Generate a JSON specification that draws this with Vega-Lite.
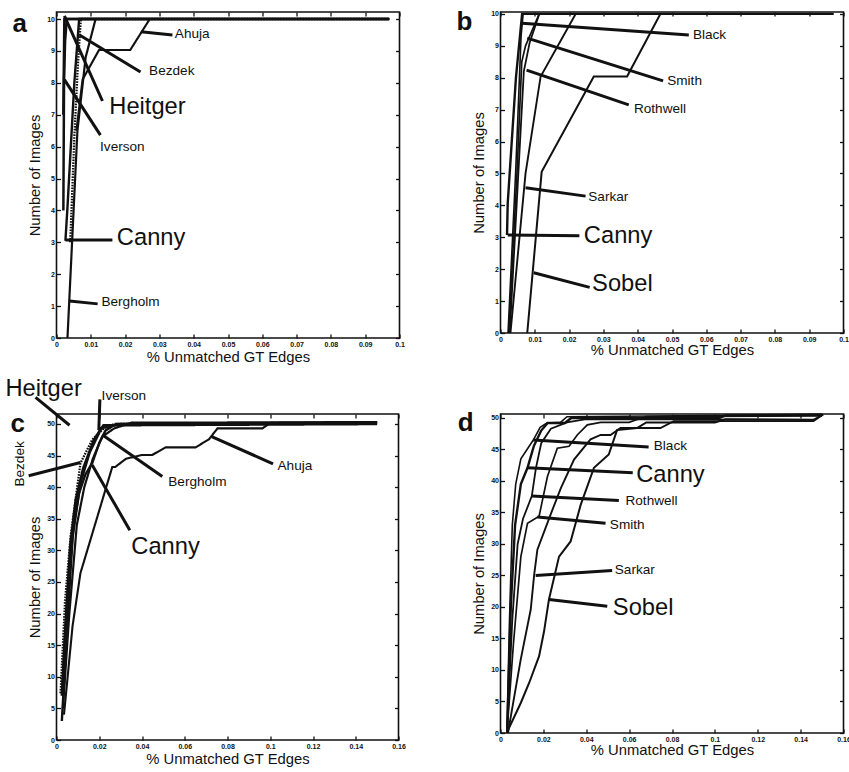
{
  "$schema": "https://vega.github.io/schema/vega-lite/v6.json",
  "background": "white",
  "padding": {"left": 4.5, "top": 8, "right": 0, "bottom": 0},
  "datasets": {
    "a_curves": [
      {"method": "Heitger", "i": 0, "x": 0.0020, "y": 7.0},
      {"method": "Heitger", "i": 1, "x": 0.0023, "y": 10},
      {"method": "Heitger", "i": 2, "x": 0.097, "y": 10},
      {"method": "Iverson", "i": 0, "x": 0.0020, "y": 4.0},
      {"method": "Iverson", "i": 1, "x": 0.0022, "y": 8.1},
      {"method": "Iverson", "i": 2, "x": 0.0025, "y": 9.3},
      {"method": "Iverson", "i": 3, "x": 0.0030, "y": 10},
      {"method": "Iverson", "i": 4, "x": 0.097, "y": 10},
      {"method": "Canny", "i": 0, "x": 0.0026, "y": 3.05},
      {"method": "Canny", "i": 1, "x": 0.0032, "y": 4.1},
      {"method": "Canny", "i": 2, "x": 0.0052, "y": 8.0},
      {"method": "Canny", "i": 3, "x": 0.0066, "y": 10},
      {"method": "Canny", "i": 4, "x": 0.097, "y": 10},
      {"method": "Bezdek", "i": 0, "x": 0.0040, "y": 3.0},
      {"method": "Bezdek", "i": 1, "x": 0.0047, "y": 4.9},
      {"method": "Bezdek", "i": 2, "x": 0.0052, "y": 6.3},
      {"method": "Bezdek", "i": 3, "x": 0.0062, "y": 8.5},
      {"method": "Bezdek", "i": 4, "x": 0.0071, "y": 10},
      {"method": "Bezdek", "i": 5, "x": 0.097, "y": 10},
      {"method": "Bergholm", "i": 0, "x": 0.0032, "y": 0},
      {"method": "Bergholm", "i": 1, "x": 0.0061, "y": 6.5},
      {"method": "Bergholm", "i": 2, "x": 0.0085, "y": 8.8},
      {"method": "Bergholm", "i": 3, "x": 0.0114, "y": 10},
      {"method": "Bergholm", "i": 4, "x": 0.097, "y": 10},
      {"method": "Ahuja", "i": 0, "x": 0.0058, "y": 6.5},
      {"method": "Ahuja", "i": 1, "x": 0.0076, "y": 8.1},
      {"method": "Ahuja", "i": 2, "x": 0.0124, "y": 9.03},
      {"method": "Ahuja", "i": 3, "x": 0.0215, "y": 9.03},
      {"method": "Ahuja", "i": 4, "x": 0.0272, "y": 10},
      {"method": "Ahuja", "i": 5, "x": 0.097, "y": 10}
    ],
    "a_leaders": [
      {"method": "Ahuja", "x": 0.0246, "y": 9.6, "x2": 0.0338, "y2": 9.5},
      {"method": "Bezdek", "x": 0.0067, "y": 9.5, "x2": 0.0245, "y2": 8.34},
      {"method": "Heitger", "x": 0.0023, "y": 10.1, "x2": 0.0134, "y2": 7.43},
      {"method": "Iverson", "x": 0.0023, "y": 8.1, "x2": 0.0128, "y2": 6.36},
      {"method": "Canny", "x": 0.0026, "y": 3.07, "x2": 0.0163, "y2": 3.07},
      {"method": "Bergholm", "x": 0.0038, "y": 1.16, "x2": 0.0120, "y2": 1.07}
    ],
    "a_labels": [
      {"label": "Ahuja", "group": "minor", "x": 0.0345, "y": 9.52},
      {"label": "Bezdek", "group": "minor", "x": 0.0270, "y": 8.37},
      {"label": "Heitger", "group": "major", "x": 0.0154, "y": 7.23},
      {"label": "Iverson", "group": "minor", "x": 0.0127, "y": 5.99},
      {"label": "Canny", "group": "major", "x": 0.0176, "y": 3.14},
      {"label": "Bergholm", "group": "minor", "x": 0.0131, "y": 1.12},
      {"label": "a", "group": "panel", "x": -0.0128, "y": 9.6}
    ],
    "b_curves": [
      {"method": "Sobel", "i": 0, "x": 0.0078, "y": 0},
      {"method": "Sobel", "i": 1, "x": 0.0120, "y": 5.05},
      {"method": "Sobel", "i": 2, "x": 0.0272, "y": 8.04},
      {"method": "Sobel", "i": 3, "x": 0.0369, "y": 8.04},
      {"method": "Sobel", "i": 4, "x": 0.0466, "y": 10},
      {"method": "Sobel", "i": 5, "x": 0.097, "y": 10},
      {"method": "Sarkar", "i": 0, "x": 0.0029, "y": 0},
      {"method": "Sarkar", "i": 1, "x": 0.0073, "y": 5.0},
      {"method": "Sarkar", "i": 2, "x": 0.0117, "y": 8.04},
      {"method": "Sarkar", "i": 3, "x": 0.0219, "y": 10},
      {"method": "Sarkar", "i": 4, "x": 0.097, "y": 10},
      {"method": "Rothwell", "i": 0, "x": 0.0027, "y": 0},
      {"method": "Rothwell", "i": 1, "x": 0.0052, "y": 5},
      {"method": "Rothwell", "i": 2, "x": 0.0068, "y": 8.2},
      {"method": "Rothwell", "i": 3, "x": 0.0085, "y": 9.1},
      {"method": "Rothwell", "i": 4, "x": 0.0113, "y": 10},
      {"method": "Rothwell", "i": 5, "x": 0.097, "y": 10},
      {"method": "Smith", "i": 0, "x": 0.0024, "y": 0},
      {"method": "Smith", "i": 1, "x": 0.0048, "y": 5},
      {"method": "Smith", "i": 2, "x": 0.0062, "y": 8.5},
      {"method": "Smith", "i": 3, "x": 0.0073, "y": 9.0},
      {"method": "Smith", "i": 4, "x": 0.0113, "y": 10},
      {"method": "Smith", "i": 5, "x": 0.097, "y": 10},
      {"method": "Black", "i": 0, "x": 0.0022, "y": 0},
      {"method": "Black", "i": 1, "x": 0.0044, "y": 5},
      {"method": "Black", "i": 2, "x": 0.0060, "y": 9.3},
      {"method": "Black", "i": 3, "x": 0.0066, "y": 10},
      {"method": "Black", "i": 4, "x": 0.097, "y": 10},
      {"method": "Canny", "i": 0, "x": 0.0019, "y": 3.07},
      {"method": "Canny", "i": 1, "x": 0.0021, "y": 4.06},
      {"method": "Canny", "i": 2, "x": 0.0045, "y": 8},
      {"method": "Canny", "i": 3, "x": 0.0063, "y": 10},
      {"method": "Canny", "i": 4, "x": 0.097, "y": 10}
    ],
    "b_leaders": [
      {"method": "Black", "x": 0.0063, "y": 9.71, "x2": 0.0549, "y2": 9.34},
      {"method": "Smith", "x": 0.0078, "y": 9.24, "x2": 0.0474, "y2": 7.90},
      {"method": "Rothwell", "x": 0.0076, "y": 8.24, "x2": 0.0374, "y2": 7.15},
      {"method": "Sarkar", "x": 0.0073, "y": 4.55, "x2": 0.0248, "y2": 4.29},
      {"method": "Canny", "x": 0.0021, "y": 3.07, "x2": 0.0230, "y2": 3.05},
      {"method": "Sobel", "x": 0.0097, "y": 1.89, "x2": 0.0260, "y2": 1.43}
    ],
    "b_labels": [
      {"label": "Black", "group": "minor", "x": 0.0561, "y": 9.35},
      {"label": "Smith", "group": "minor", "x": 0.0486, "y": 7.89},
      {"label": "Rothwell", "group": "minor", "x": 0.0389, "y": 7.03},
      {"label": "Sarkar", "group": "minor", "x": 0.0256, "y": 4.27},
      {"label": "Canny", "group": "major", "x": 0.0243, "y": 3.05},
      {"label": "Sobel", "group": "major", "x": 0.0267, "y": 1.53},
      {"label": "b", "group": "panel", "x": -0.0128, "y": 9.5}
    ],
    "c_curves": [
      {"method": "Ahuja", "i": 0, "x": 0.0035, "y": 4},
      {"method": "Ahuja", "i": 1, "x": 0.0075, "y": 18},
      {"method": "Ahuja", "i": 2, "x": 0.0112, "y": 26.4},
      {"method": "Ahuja", "i": 3, "x": 0.0261, "y": 43.2},
      {"method": "Ahuja", "i": 4, "x": 0.0275, "y": 43.2},
      {"method": "Ahuja", "i": 5, "x": 0.0325, "y": 44.5},
      {"method": "Ahuja", "i": 6, "x": 0.0401, "y": 45.1},
      {"method": "Ahuja", "i": 7, "x": 0.0448, "y": 45.1},
      {"method": "Ahuja", "i": 8, "x": 0.0510, "y": 46.3},
      {"method": "Ahuja", "i": 9, "x": 0.0651, "y": 46.3},
      {"method": "Ahuja", "i": 10, "x": 0.0714, "y": 47.6},
      {"method": "Ahuja", "i": 11, "x": 0.0753, "y": 49.3},
      {"method": "Ahuja", "i": 12, "x": 0.0963, "y": 49.3},
      {"method": "Ahuja", "i": 13, "x": 0.1002, "y": 50.2},
      {"method": "Ahuja", "i": 14, "x": 0.150, "y": 50.3},
      {"method": "Bergholm", "i": 0, "x": 0.0030, "y": 5},
      {"method": "Bergholm", "i": 1, "x": 0.0060, "y": 20},
      {"method": "Bergholm", "i": 2, "x": 0.0095, "y": 34},
      {"method": "Bergholm", "i": 3, "x": 0.0130, "y": 40},
      {"method": "Bergholm", "i": 4, "x": 0.0170, "y": 44.5},
      {"method": "Bergholm", "i": 5, "x": 0.0214, "y": 48.0},
      {"method": "Bergholm", "i": 6, "x": 0.0270, "y": 49.3},
      {"method": "Bergholm", "i": 7, "x": 0.0350, "y": 50.2},
      {"method": "Bergholm", "i": 8, "x": 0.150, "y": 50.3},
      {"method": "Canny", "i": 0, "x": 0.0025, "y": 3},
      {"method": "Canny", "i": 1, "x": 0.0045, "y": 15},
      {"method": "Canny", "i": 2, "x": 0.0075, "y": 32},
      {"method": "Canny", "i": 3, "x": 0.0105, "y": 39},
      {"method": "Canny", "i": 4, "x": 0.0135, "y": 42.0},
      {"method": "Canny", "i": 5, "x": 0.0167, "y": 43.8},
      {"method": "Canny", "i": 6, "x": 0.0200, "y": 47},
      {"method": "Canny", "i": 7, "x": 0.0230, "y": 49},
      {"method": "Canny", "i": 8, "x": 0.0280, "y": 50},
      {"method": "Canny", "i": 9, "x": 0.150, "y": 50.2},
      {"method": "Heitger", "i": 0, "x": 0.0025, "y": 7},
      {"method": "Heitger", "i": 1, "x": 0.0040, "y": 17},
      {"method": "Heitger", "i": 2, "x": 0.0065, "y": 31},
      {"method": "Heitger", "i": 3, "x": 0.0090, "y": 38},
      {"method": "Heitger", "i": 4, "x": 0.0125, "y": 43},
      {"method": "Heitger", "i": 5, "x": 0.0175, "y": 47.5},
      {"method": "Heitger", "i": 6, "x": 0.0220, "y": 49.8},
      {"method": "Heitger", "i": 7, "x": 0.150, "y": 50},
      {"method": "Iverson", "i": 0, "x": 0.0030, "y": 9},
      {"method": "Iverson", "i": 1, "x": 0.0050, "y": 22},
      {"method": "Iverson", "i": 2, "x": 0.0080, "y": 34},
      {"method": "Iverson", "i": 3, "x": 0.0115, "y": 41},
      {"method": "Iverson", "i": 4, "x": 0.0155, "y": 45.5},
      {"method": "Iverson", "i": 5, "x": 0.0198, "y": 48.5},
      {"method": "Iverson", "i": 6, "x": 0.0205, "y": 49.3},
      {"method": "Iverson", "i": 7, "x": 0.0300, "y": 50},
      {"method": "Iverson", "i": 8, "x": 0.150, "y": 50.1},
      {"method": "Bezdek", "i": 0, "x": 0.0019, "y": 7.4},
      {"method": "Bezdek", "i": 1, "x": 0.0040, "y": 22},
      {"method": "Bezdek", "i": 2, "x": 0.0066, "y": 32.2},
      {"method": "Bezdek", "i": 3, "x": 0.0112, "y": 43.8},
      {"method": "Bezdek", "i": 4, "x": 0.0167, "y": 47.5},
      {"method": "Bezdek", "i": 5, "x": 0.0230, "y": 49.6},
      {"method": "Bezdek", "i": 6, "x": 0.0276, "y": 50},
      {"method": "Bezdek", "i": 7, "x": 0.150, "y": 50.1}
    ],
    "c_leaders": [
      {"method": "Heitger", "x": -0.0098, "y": 54.2, "x2": 0.0061, "y2": 49.8},
      {"method": "Iverson", "x": 0.0203, "y": 53.9, "x2": 0.0198, "y2": 49.05},
      {"method": "Bezdek", "x": -0.0130, "y": 41.8, "x2": 0.0112, "y2": 43.9},
      {"method": "Bergholm", "x": 0.0214, "y": 48.3, "x2": 0.0495, "y2": 41.7},
      {"method": "Canny", "x": 0.0167, "y": 43.5, "x2": 0.0343, "y2": 33.2},
      {"method": "Ahuja", "x": 0.0726, "y": 48.0, "x2": 0.1013, "y2": 43.7}
    ],
    "c_labels": [
      {"label": "Heitger", "group": "major", "x": -0.0239, "y": 55.6},
      {"label": "Iverson", "group": "minor", "x": 0.0211, "y": 54.4},
      {"label": "Bezdek", "group": "vertical", "x": -0.0169, "y": 40.1},
      {"label": "Bergholm", "group": "minor", "x": 0.0523, "y": 40.8},
      {"label": "Ahuja", "group": "minor", "x": 0.1034, "y": 43.35},
      {"label": "Canny", "group": "major", "x": 0.0350, "y": 30.6},
      {"label": "c", "group": "panel", "x": -0.0215, "y": 48.8}
    ],
    "d_curves": [
      {"method": "Black", "i": 0, "x": 0.0030, "y": 0.5},
      {"method": "Black", "i": 1, "x": 0.0042, "y": 18},
      {"method": "Black", "i": 2, "x": 0.0055, "y": 33},
      {"method": "Black", "i": 3, "x": 0.0071, "y": 39.5},
      {"method": "Black", "i": 4, "x": 0.0095, "y": 43.5},
      {"method": "Black", "i": 5, "x": 0.0153, "y": 46.5},
      {"method": "Black", "i": 6, "x": 0.0185, "y": 48.5},
      {"method": "Black", "i": 7, "x": 0.0216, "y": 49.2},
      {"method": "Black", "i": 8, "x": 0.0280, "y": 49.3},
      {"method": "Black", "i": 9, "x": 0.0310, "y": 50.2},
      {"method": "Black", "i": 10, "x": 0.150, "y": 50.55},
      {"method": "Canny", "i": 0, "x": 0.0032, "y": 1},
      {"method": "Canny", "i": 1, "x": 0.0048, "y": 20},
      {"method": "Canny", "i": 2, "x": 0.0068, "y": 33},
      {"method": "Canny", "i": 3, "x": 0.0095, "y": 39.5},
      {"method": "Canny", "i": 4, "x": 0.0126, "y": 42.1},
      {"method": "Canny", "i": 5, "x": 0.0155, "y": 45.5},
      {"method": "Canny", "i": 6, "x": 0.0190, "y": 48},
      {"method": "Canny", "i": 7, "x": 0.0220, "y": 49.2},
      {"method": "Canny", "i": 8, "x": 0.0300, "y": 49.2},
      {"method": "Canny", "i": 9, "x": 0.0330, "y": 50},
      {"method": "Canny", "i": 10, "x": 0.1020, "y": 50},
      {"method": "Canny", "i": 11, "x": 0.1050, "y": 50.4},
      {"method": "Canny", "i": 12, "x": 0.150, "y": 50.5},
      {"method": "Rothwell", "i": 0, "x": 0.0030, "y": 0},
      {"method": "Rothwell", "i": 1, "x": 0.0055, "y": 18},
      {"method": "Rothwell", "i": 2, "x": 0.0080, "y": 30},
      {"method": "Rothwell", "i": 3, "x": 0.0105, "y": 34},
      {"method": "Rothwell", "i": 4, "x": 0.0146, "y": 37.6},
      {"method": "Rothwell", "i": 5, "x": 0.0165, "y": 42},
      {"method": "Rothwell", "i": 6, "x": 0.0190, "y": 46},
      {"method": "Rothwell", "i": 7, "x": 0.0235, "y": 48.3},
      {"method": "Rothwell", "i": 8, "x": 0.0310, "y": 49.3},
      {"method": "Rothwell", "i": 9, "x": 0.0400, "y": 49.8},
      {"method": "Rothwell", "i": 10, "x": 0.0640, "y": 49.8},
      {"method": "Rothwell", "i": 11, "x": 0.0680, "y": 50.2},
      {"method": "Rothwell", "i": 12, "x": 0.150, "y": 50.35},
      {"method": "Smith", "i": 0, "x": 0.0030, "y": 0},
      {"method": "Smith", "i": 1, "x": 0.0060, "y": 14},
      {"method": "Smith", "i": 2, "x": 0.0095, "y": 28},
      {"method": "Smith", "i": 3, "x": 0.0126, "y": 33.3},
      {"method": "Smith", "i": 4, "x": 0.0180, "y": 34.4},
      {"method": "Smith", "i": 5, "x": 0.0219, "y": 40.7},
      {"method": "Smith", "i": 6, "x": 0.0265, "y": 45.2},
      {"method": "Smith", "i": 7, "x": 0.0320, "y": 45.5},
      {"method": "Smith", "i": 8, "x": 0.0358, "y": 47.3},
      {"method": "Smith", "i": 9, "x": 0.0405, "y": 48.9},
      {"method": "Smith", "i": 10, "x": 0.0467, "y": 49.3},
      {"method": "Smith", "i": 11, "x": 0.0600, "y": 49.3},
      {"method": "Smith", "i": 12, "x": 0.0640, "y": 49.8},
      {"method": "Smith", "i": 13, "x": 0.1460, "y": 49.7},
      {"method": "Smith", "i": 14, "x": 0.1505, "y": 50.55},
      {"method": "Sarkar", "i": 0, "x": 0.0035, "y": 0},
      {"method": "Sarkar", "i": 1, "x": 0.0048, "y": 2.6},
      {"method": "Sarkar", "i": 2, "x": 0.0094, "y": 11.6},
      {"method": "Sarkar", "i": 3, "x": 0.0141, "y": 19.6},
      {"method": "Sarkar", "i": 4, "x": 0.0157, "y": 25.1},
      {"method": "Sarkar", "i": 5, "x": 0.0172, "y": 29.1},
      {"method": "Sarkar", "i": 6, "x": 0.0234, "y": 34.7},
      {"method": "Sarkar", "i": 7, "x": 0.0282, "y": 38.9},
      {"method": "Sarkar", "i": 8, "x": 0.0343, "y": 43.4},
      {"method": "Sarkar", "i": 9, "x": 0.0420, "y": 46.6},
      {"method": "Sarkar", "i": 10, "x": 0.0467, "y": 47.3},
      {"method": "Sarkar", "i": 11, "x": 0.0513, "y": 47.3},
      {"method": "Sarkar", "i": 12, "x": 0.0560, "y": 48.4},
      {"method": "Sarkar", "i": 13, "x": 0.0746, "y": 48.4},
      {"method": "Sarkar", "i": 14, "x": 0.0808, "y": 49.5},
      {"method": "Sarkar", "i": 15, "x": 0.1460, "y": 49.5},
      {"method": "Sarkar", "i": 16, "x": 0.1505, "y": 50.55},
      {"method": "Sobel", "i": 0, "x": 0.0033, "y": 0.3},
      {"method": "Sobel", "i": 1, "x": 0.0095, "y": 4.8},
      {"method": "Sobel", "i": 2, "x": 0.0133, "y": 7.9},
      {"method": "Sobel", "i": 3, "x": 0.0180, "y": 12.2},
      {"method": "Sobel", "i": 4, "x": 0.0203, "y": 16.1},
      {"method": "Sobel", "i": 5, "x": 0.0226, "y": 21.2},
      {"method": "Sobel", "i": 6, "x": 0.0273, "y": 28},
      {"method": "Sobel", "i": 7, "x": 0.0327, "y": 30.4},
      {"method": "Sobel", "i": 8, "x": 0.0374, "y": 36.2},
      {"method": "Sobel", "i": 9, "x": 0.0436, "y": 42.1},
      {"method": "Sobel", "i": 10, "x": 0.0505, "y": 44.2},
      {"method": "Sobel", "i": 11, "x": 0.0544, "y": 48.1},
      {"method": "Sobel", "i": 12, "x": 0.0637, "y": 48.4},
      {"method": "Sobel", "i": 13, "x": 0.0680, "y": 49.3},
      {"method": "Sobel", "i": 14, "x": 0.1000, "y": 49.3},
      {"method": "Sobel", "i": 15, "x": 0.1050, "y": 49.8},
      {"method": "Sobel", "i": 16, "x": 0.1460, "y": 49.7}
    ],
    "d_leaders": [
      {"method": "Black", "x": 0.0153, "y": 46.5, "x2": 0.0691, "y2": 45.4},
      {"method": "Canny", "x": 0.0126, "y": 42.1, "x2": 0.0617, "y2": 41.3},
      {"method": "Rothwell", "x": 0.0146, "y": 37.6, "x2": 0.0552, "y2": 36.9},
      {"method": "Smith", "x": 0.0172, "y": 34.3, "x2": 0.0490, "y2": 33.3},
      {"method": "Sarkar", "x": 0.0164, "y": 25.0, "x2": 0.0521, "y2": 25.8},
      {"method": "Sobel", "x": 0.0226, "y": 21.2, "x2": 0.0498, "y2": 20.1}
    ],
    "d_labels": [
      {"label": "Black", "group": "minor", "x": 0.0715, "y": 45.6},
      {"label": "Canny", "group": "major", "x": 0.0633, "y": 41.0},
      {"label": "Rothwell", "group": "minor", "x": 0.0583, "y": 36.8},
      {"label": "Smith", "group": "minor", "x": 0.0510, "y": 33.0},
      {"label": "Sarkar", "group": "minor", "x": 0.0533, "y": 25.8},
      {"label": "Sobel", "group": "major", "x": 0.0524, "y": 19.8},
      {"label": "d", "group": "panel", "x": -0.0200, "y": 47.9}
    ]
  },
  "concat": [
    {
      "width": 343,
      "height": 326,
      "layer": [
        {
          "data": {"name": "a_curves"},
          "mark": {"type": "line", "color": "#111", "clip": false},
          "encoding": {
            "x": {"field": "x", "type": "quantitative", "scale": {"domain": [0, 0.1], "nice": false, "zero": false},
              "axis": {"orient": "bottom", "values": [0, 0.01, 0.02, 0.03, 0.04, 0.05, 0.06, 0.07, 0.08, 0.09, 0.1], "format": "~g", "title": "% Unmatched GT Edges", "titlePadding": 2}},
            "y": {"field": "y", "type": "quantitative", "scale": {"domain": [0, 10.22], "nice": false, "zero": false},
              "axis": {"orient": "left", "values": [0, 1, 2, 3, 4, 5, 6, 7, 8, 9, 10], "title": "Number of Images", "titlePadding": 4}},
            "detail": {"field": "method"},
            "order": {"field": "i"},
            "strokeWidth": {"field": "method", "type": "nominal", "legend": null,
              "scale": {"domain": ["Heitger", "Iverson", "Canny", "Bezdek", "Bergholm", "Ahuja"], "range": [2.6, 1.6, 2.6, 2.6, 1.3, 1]}},
            "strokeDash": {"field": "method", "type": "nominal", "legend": null,
              "scale": {"domain": ["Heitger", "Iverson", "Canny", "Bezdek", "Bergholm", "Ahuja"], "range": [[1, 0], [1, 0], [1, 0], [1.6, 1.2], [1, 0], [1, 0]]}}
          }
        },
        {
          "data": {"name": "a_leaders"},
          "mark": {"type": "rule", "color": "#111", "strokeWidth": 3},
          "encoding": {
            "x": {"field": "x", "type": "quantitative", "scale": {"domain": [0, 0.1], "nice": false, "zero": false},
              "axis": {"orient": "top", "values": [0, 0.01, 0.02, 0.03, 0.04, 0.05, 0.06, 0.07, 0.08, 0.09, 0.1], "labels": false, "title": null}},
            "y": {"field": "y", "type": "quantitative", "scale": {"domain": [0, 10.22], "nice": false, "zero": false},
              "axis": {"orient": "right", "values": [0, 1, 2, 3, 4, 5, 6, 7, 8, 9, 10], "labels": false, "title": null}},
            "x2": {"field": "x2"},
            "y2": {"field": "y2"}
          }
        },
        {
          "data": {"name": "a_labels"},
          "transform": [{"filter": "datum.group === 'minor' || datum.group === 'major'"}],
          "mark": {"type": "text", "align": "left", "baseline": "middle", "font": "Liberation Sans", "color": "#111"},
          "encoding": {
            "x": {"field": "x", "type": "quantitative", "scale": {"domain": [0, 0.1], "nice": false, "zero": false}, "axis": null},
            "y": {"field": "y", "type": "quantitative", "scale": {"domain": [0, 10.22], "nice": false, "zero": false}, "axis": null},
            "text": {"field": "label"},
            "size": {"field": "group", "type": "nominal", "legend": null, "scale": {"domain": ["minor", "major"], "range": [13.6, 23.7]}}
          }
        },
        {
          "data": {"name": "a_labels"},
          "transform": [{"filter": "datum.group === 'panel'"}],
          "mark": {"type": "text", "align": "left", "baseline": "alphabetic", "font": "Liberation Sans", "fontWeight": "bold", "fontSize": 26, "color": "#111"},
          "encoding": {
            "x": {"field": "x", "type": "quantitative", "scale": {"domain": [0, 0.1], "nice": false, "zero": false}, "axis": null},
            "y": {"field": "y", "type": "quantitative", "scale": {"domain": [0, 10.22], "nice": false, "zero": false}, "axis": null},
            "text": {"field": "label"}
          }
        }
      ],
      "resolve": {"axis": {"x": "independent", "y": "independent"}}
    },
    {
      "width": 343,
      "height": 321,
      "layer": [
        {
          "data": {"name": "b_curves"},
          "mark": {"type": "line", "color": "#111", "clip": false},
          "encoding": {
            "x": {"field": "x", "type": "quantitative", "scale": {"domain": [0, 0.1], "nice": false, "zero": false},
              "axis": {"orient": "bottom", "values": [0, 0.01, 0.02, 0.03, 0.04, 0.05, 0.06, 0.07, 0.08, 0.09, 0.1], "format": "~g", "title": "% Unmatched GT Edges", "titlePadding": 0}},
            "y": {"field": "y", "type": "quantitative", "scale": {"domain": [0, 10.06], "nice": false, "zero": false},
              "axis": {"orient": "left", "values": [0, 1, 2, 3, 4, 5, 6, 7, 8, 9, 10], "title": "Number of Images", "titlePadding": 4}},
            "detail": {"field": "method"},
            "order": {"field": "i"},
            "strokeWidth": {"field": "method", "type": "nominal", "legend": null,
              "scale": {"domain": ["Sobel", "Sarkar", "Rothwell", "Smith", "Black", "Canny"], "range": [1.3, 2.6, 1.5, 1.2, 1, 1]}}
          }
        },
        {
          "data": {"name": "b_leaders"},
          "mark": {"type": "rule", "color": "#111", "strokeWidth": 3},
          "encoding": {
            "x": {"field": "x", "type": "quantitative", "scale": {"domain": [0, 0.1], "nice": false, "zero": false},
              "axis": {"orient": "top", "values": [0, 0.01, 0.02, 0.03, 0.04, 0.05, 0.06, 0.07, 0.08, 0.09, 0.1], "labels": false, "title": null}},
            "y": {"field": "y", "type": "quantitative", "scale": {"domain": [0, 10.06], "nice": false, "zero": false},
              "axis": {"orient": "right", "values": [0, 1, 2, 3, 4, 5, 6, 7, 8, 9, 10], "labels": false, "title": null}},
            "x2": {"field": "x2"},
            "y2": {"field": "y2"}
          }
        },
        {
          "data": {"name": "b_labels"},
          "transform": [{"filter": "datum.group === 'minor' || datum.group === 'major'"}],
          "mark": {"type": "text", "align": "left", "baseline": "middle", "font": "Liberation Sans", "color": "#111"},
          "encoding": {
            "x": {"field": "x", "type": "quantitative", "scale": {"domain": [0, 0.1], "nice": false, "zero": false}, "axis": null},
            "y": {"field": "y", "type": "quantitative", "scale": {"domain": [0, 10.06], "nice": false, "zero": false}, "axis": null},
            "text": {"field": "label"},
            "size": {"field": "group", "type": "nominal", "legend": null, "scale": {"domain": ["minor", "major"], "range": [13.6, 23.7]}}
          }
        },
        {
          "data": {"name": "b_labels"},
          "transform": [{"filter": "datum.group === 'panel'"}],
          "mark": {"type": "text", "align": "left", "baseline": "alphabetic", "font": "Liberation Sans", "fontWeight": "bold", "fontSize": 26, "color": "#111"},
          "encoding": {
            "x": {"field": "x", "type": "quantitative", "scale": {"domain": [0, 0.1], "nice": false, "zero": false}, "axis": null},
            "y": {"field": "y", "type": "quantitative", "scale": {"domain": [0, 10.06], "nice": false, "zero": false}, "axis": null},
            "text": {"field": "label"}
          }
        }
      ],
      "resolve": {"axis": {"x": "independent", "y": "independent"}}
    },
    {
      "width": 342,
      "height": 326,
      "layer": [
        {
          "data": {"name": "c_curves"},
          "mark": {"type": "line", "color": "#111", "clip": false},
          "encoding": {
            "x": {"field": "x", "type": "quantitative", "scale": {"domain": [0, 0.16], "nice": false, "zero": false},
              "axis": {"orient": "bottom", "values": [0, 0.02, 0.04, 0.06, 0.08, 0.1, 0.12, 0.14, 0.16], "format": "~g", "title": "% Unmatched GT Edges", "titlePadding": 2}},
            "y": {"field": "y", "type": "quantitative", "scale": {"domain": [0, 51.58], "nice": false, "zero": false},
              "axis": {"orient": "left", "values": [0, 5, 10, 15, 20, 25, 30, 35, 40, 45, 50], "title": "Number of Images", "titlePadding": 4}},
            "detail": {"field": "method"},
            "order": {"field": "i"},
            "strokeWidth": {"field": "method", "type": "nominal", "legend": null,
              "scale": {"domain": ["Ahuja", "Bergholm", "Canny", "Heitger", "Iverson", "Bezdek"], "range": [1, 1.4, 2.8, 2.6, 2, 2.6]}},
            "strokeDash": {"field": "method", "type": "nominal", "legend": null,
              "scale": {"domain": ["Ahuja", "Bergholm", "Canny", "Heitger", "Iverson", "Bezdek"], "range": [[1, 0], [1, 0], [1, 0], [1, 0], [1, 0], [1.6, 1.2]]}}
          }
        },
        {
          "data": {"name": "c_leaders"},
          "mark": {"type": "rule", "color": "#111", "strokeWidth": 3},
          "encoding": {
            "x": {"field": "x", "type": "quantitative", "scale": {"domain": [0, 0.16], "nice": false, "zero": false},
              "axis": {"orient": "top", "values": [0, 0.02, 0.04, 0.06, 0.08, 0.1, 0.12, 0.14, 0.16], "labels": false, "title": null}},
            "y": {"field": "y", "type": "quantitative", "scale": {"domain": [0, 51.58], "nice": false, "zero": false},
              "axis": {"orient": "right", "values": [0, 5, 10, 15, 20, 25, 30, 35, 40, 45, 50], "labels": false, "title": null}},
            "x2": {"field": "x2"},
            "y2": {"field": "y2"}
          }
        },
        {
          "data": {"name": "c_labels"},
          "transform": [{"filter": "datum.group === 'minor' || datum.group === 'major'"}],
          "mark": {"type": "text", "align": "left", "baseline": "middle", "font": "Liberation Sans", "color": "#111"},
          "encoding": {
            "x": {"field": "x", "type": "quantitative", "scale": {"domain": [0, 0.16], "nice": false, "zero": false}, "axis": null},
            "y": {"field": "y", "type": "quantitative", "scale": {"domain": [0, 51.58], "nice": false, "zero": false}, "axis": null},
            "text": {"field": "label"},
            "size": {"field": "group", "type": "nominal", "legend": null, "scale": {"domain": ["minor", "major"], "range": [13.6, 23.7]}}
          }
        },
        {
          "data": {"name": "c_labels"},
          "transform": [{"filter": "datum.group === 'vertical'"}],
          "mark": {"type": "text", "align": "left", "baseline": "middle", "angle": 270, "font": "Liberation Sans", "fontSize": 13.6, "color": "#111"},
          "encoding": {
            "x": {"field": "x", "type": "quantitative", "scale": {"domain": [0, 0.16], "nice": false, "zero": false}, "axis": null},
            "y": {"field": "y", "type": "quantitative", "scale": {"domain": [0, 51.58], "nice": false, "zero": false}, "axis": null},
            "text": {"field": "label"}
          }
        },
        {
          "data": {"name": "c_labels"},
          "transform": [{"filter": "datum.group === 'panel'"}],
          "mark": {"type": "text", "align": "left", "baseline": "alphabetic", "font": "Liberation Sans", "fontWeight": "bold", "fontSize": 26, "color": "#111"},
          "encoding": {
            "x": {"field": "x", "type": "quantitative", "scale": {"domain": [0, 0.16], "nice": false, "zero": false}, "axis": null},
            "y": {"field": "y", "type": "quantitative", "scale": {"domain": [0, 51.58], "nice": false, "zero": false}, "axis": null},
            "text": {"field": "label"}
          }
        }
      ],
      "resolve": {"axis": {"x": "independent", "y": "independent"}}
    },
    {
      "width": 343,
      "height": 319,
      "layer": [
        {
          "data": {"name": "d_curves"},
          "mark": {"type": "line", "color": "#111", "clip": false},
          "encoding": {
            "x": {"field": "x", "type": "quantitative", "scale": {"domain": [0, 0.16], "nice": false, "zero": false},
              "axis": {"orient": "bottom", "values": [0, 0.02, 0.04, 0.06, 0.08, 0.1, 0.12, 0.14, 0.16], "format": "~g", "title": "% Unmatched GT Edges", "titlePadding": 0}},
            "y": {"field": "y", "type": "quantitative", "scale": {"domain": [0, 50.63], "nice": false, "zero": false},
              "axis": {"orient": "left", "values": [0, 5, 10, 15, 20, 25, 30, 35, 40, 45, 50], "title": "Number of Images", "titlePadding": 4}},
            "detail": {"field": "method"},
            "order": {"field": "i"},
            "strokeWidth": {"field": "method", "type": "nominal", "legend": null,
              "scale": {"domain": ["Black", "Canny", "Rothwell", "Smith", "Sarkar", "Sobel"], "range": [1, 1.3, 1.3, 1, 2.6, 1.8]}}
          }
        },
        {
          "data": {"name": "d_leaders"},
          "mark": {"type": "rule", "color": "#111", "strokeWidth": 3},
          "encoding": {
            "x": {"field": "x", "type": "quantitative", "scale": {"domain": [0, 0.16], "nice": false, "zero": false},
              "axis": {"orient": "top", "values": [0, 0.02, 0.04, 0.06, 0.08, 0.1, 0.12, 0.14, 0.16], "labels": false, "title": null}},
            "y": {"field": "y", "type": "quantitative", "scale": {"domain": [0, 50.63], "nice": false, "zero": false},
              "axis": {"orient": "right", "values": [0, 5, 10, 15, 20, 25, 30, 35, 40, 45, 50], "labels": false, "title": null}},
            "x2": {"field": "x2"},
            "y2": {"field": "y2"}
          }
        },
        {
          "data": {"name": "d_labels"},
          "transform": [{"filter": "datum.group === 'minor' || datum.group === 'major'"}],
          "mark": {"type": "text", "align": "left", "baseline": "middle", "font": "Liberation Sans", "color": "#111"},
          "encoding": {
            "x": {"field": "x", "type": "quantitative", "scale": {"domain": [0, 0.16], "nice": false, "zero": false}, "axis": null},
            "y": {"field": "y", "type": "quantitative", "scale": {"domain": [0, 50.63], "nice": false, "zero": false}, "axis": null},
            "text": {"field": "label"},
            "size": {"field": "group", "type": "nominal", "legend": null, "scale": {"domain": ["minor", "major"], "range": [13.6, 23.7]}}
          }
        },
        {
          "data": {"name": "d_labels"},
          "transform": [{"filter": "datum.group === 'panel'"}],
          "mark": {"type": "text", "align": "left", "baseline": "alphabetic", "font": "Liberation Sans", "fontWeight": "bold", "fontSize": 26, "color": "#111"},
          "encoding": {
            "x": {"field": "x", "type": "quantitative", "scale": {"domain": [0, 0.16], "nice": false, "zero": false}, "axis": null},
            "y": {"field": "y", "type": "quantitative", "scale": {"domain": [0, 50.63], "nice": false, "zero": false}, "axis": null},
            "text": {"field": "label"}
          }
        }
      ],
      "resolve": {"axis": {"x": "independent", "y": "independent"}}
    }
  ],
  "columns": 2,
  "spacing": {"row": 76, "column": 101},
  "bounds": "flush",
  "config": {
    "view": {"stroke": "#111", "strokeWidth": 1.6},
    "axis": {
      "domain": false,
      "grid": false,
      "ticks": true,
      "tickSize": -4,
      "tickWidth": 1.3,
      "tickColor": "#111",
      "labelFont": "Liberation Sans",
      "labelFontSize": 7,
      "labelFontWeight": "bold",
      "labelColor": "#111",
      "labelPadding": 6,
      "labelFlush": false,
      "labelOverlap": false,
      "labelBound": false,
      "titleFont": "Liberation Sans",
      "titleFontSize": 14.8,
      "titleFontWeight": "normal",
      "titleColor": "#111"
    }
  }
}
